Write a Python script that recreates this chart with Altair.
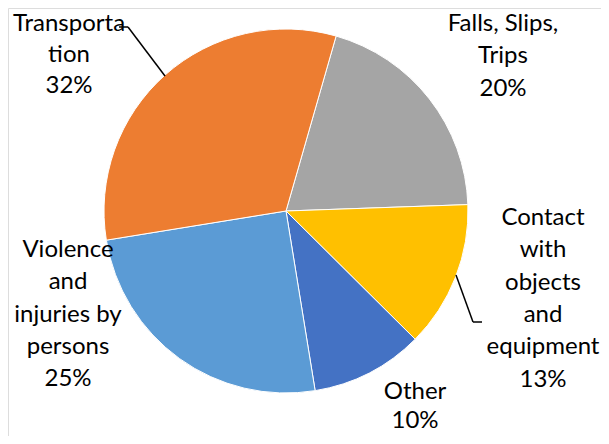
import altair as alt
import pandas as pd

# ---- data ----
categories = ["Falls, Slips, Trips", "Contact with objects and equipment", "Other",
              "Violence and injuries by persons", "Transportation"]
values = [20, 13, 10, 25, 32]
colors = ["#A5A5A5", "#FFC000", "#4472C4", "#5B9BD5", "#ED7D31"]
# label text as wrapped in the original
label_lines = ["Falls, Slips,\nTrips", "Contact\nwith\nobjects\nand\nequipment", "Other",
               "Violence\nand\ninjuries by\npersons", "Transporta\ntion"]

df = pd.DataFrame({"category": categories, "value": values, "order": list(range(len(categories)))})

# ---- layout (chart pixel coordinates, not data) ----
cx, cy, R = 278, 203, 182
start = 0.279
label_pos = {  # center x, y of first line, line height of each label block
    "Falls, Slips, Trips": (495, 16, 32.3),
    "Contact with objects and equipment": (535, 210, 32.3),
    "Other": (407, 384, 29),
    "Violence and injuries by persons": (60, 242, 32.3),
    "Transportation": (61, 16, 31),
}

pie = alt.Chart(df).mark_arc(outerRadius=R, stroke="white", strokeWidth=1).encode(
    theta=alt.Theta("value:Q", stack=True, scale=alt.Scale(range=[start, start + 6.283185307])),
    color=alt.Color("category:N", scale=alt.Scale(domain=categories, range=colors), legend=None),
    order=alt.Order("order:Q"),
    x=alt.value(cx),
    y=alt.value(cy),
)

layers = [pie]
for cat, val, lines in zip(categories, values, label_lines):
    lx, ly, lh = label_pos[cat]
    txt = f"{lines}\n{val}%"
    layers.append(
        alt.Chart(pd.DataFrame({"t": [txt]})).mark_text(
            font="Lato", fontSize=24, lineBreak="\n", lineHeight=lh,
            align="center", baseline="middle", color="#000000"
        ).encode(text="t:N", x=alt.value(lx), y=alt.value(ly))
    )

# leader lines (annotation geometry)
leaders = [
    (111, 19, 120, 19), (120, 19, 157, 68),
    (448, 267, 465, 314), (465, 314, 474, 314),
]
for x1, y1, x2, y2 in leaders:
    layers.append(
        alt.Chart(pd.DataFrame({"a": [0]})).mark_rule(color="#000000", strokeWidth=1.5).encode(
            x=alt.value(x1), y=alt.value(y1), x2=alt.value(x2), y2=alt.value(y2)
        )
    )

chart = alt.layer(*layers).properties(
    width=593, height=428, padding=0, autosize=alt.AutoSizeParams(type="none")
).configure_view(strokeOpacity=0, strokeWidth=0).configure(background="white")

chart.save("out.html", embed_options={"renderer": "svg", "actions": False})
